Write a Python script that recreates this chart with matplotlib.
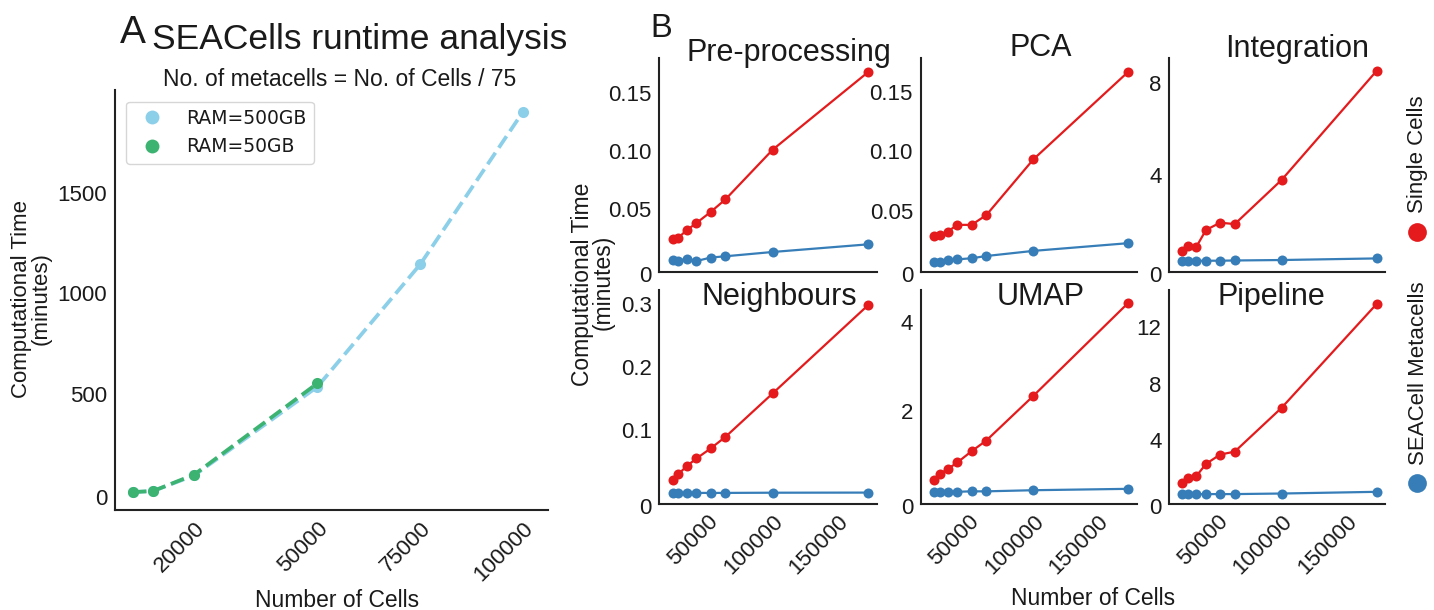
import matplotlib
matplotlib.use("Agg")
import matplotlib.pyplot as plt
from matplotlib.lines import Line2D

W, H = 1434, 610
DPI = 100
plt.rcParams['font.family'] = ['Liberation Sans', 'DejaVu Sans']
TXT = '#1a1a1a'
plt.rcParams['text.color'] = TXT

# ---------------- Panel A data ----------------
cells_a500 = [5000, 10000, 20000, 50000, 75000, 100000]
time_ram500 = [10.9, 16.4, 94, 535, 1143, 1901]
cells_a50 = [5000, 10000, 20000, 50000]
time_ram50 = [10.9, 16.4, 98, 552]
label_ram500 = 'RAM=500GB'
label_ram50 = 'RAM=50GB'
xticks_a = [20000, 50000, 75000, 100000]
yticks_a = [0, 500, 1000, 1500]

# ---------------- Panel B data ----------------
cells_b = [23000, 27500, 33800, 41400, 52300, 63700, 100000, 173500]
steps = ['Pre-processing', 'PCA', 'Integration', 'Neighbours', 'UMAP', 'Pipeline']
single_pre = [0.0244, 0.0256, 0.0319, 0.0382, 0.0477, 0.0586, 0.1014, 0.1684]
meta_pre = [0.0066, 0.0054, 0.0075, 0.0054, 0.0084, 0.0095, 0.0132, 0.0198]
single_pca = [0.0287, 0.0293, 0.0324, 0.0380, 0.0380, 0.0462, 0.0930, 0.1668]
meta_pca = [0.0068, 0.0068, 0.0082, 0.0090, 0.0099, 0.0118, 0.0161, 0.0226]
single_int = [0.70, 0.90, 0.85, 1.60, 1.92, 1.86, 3.79, 8.55]
meta_int = [0.26, 0.26, 0.26, 0.26, 0.26, 0.27, 0.29, 0.36]
single_nei = [0.0217, 0.0302, 0.0429, 0.0551, 0.0710, 0.0894, 0.1583, 0.2984]
meta_nei = [0.0005, 0.0005, 0.0005, 0.0005, 0.0005, 0.0005, 0.0008, 0.0010]
single_umap = [0.45, 0.57, 0.69, 0.84, 1.09, 1.33, 2.33, 4.42]
meta_umap = [0.18, 0.18, 0.18, 0.18, 0.19, 0.19, 0.215, 0.246]
single_pipe = [0.97, 1.33, 1.44, 2.32, 2.98, 3.19, 6.29, 13.62]
meta_pipe = [0.19, 0.19, 0.19, 0.19, 0.19, 0.19, 0.23, 0.35]
singles = [single_pre, single_pca, single_int, single_nei, single_umap, single_pipe]
metas = [meta_pre, meta_pca, meta_int, meta_nei, meta_umap, meta_pipe]
yticks_b = [[0, 0.05, 0.10, 0.15], [0, 0.05, 0.10, 0.15], [0, 4, 8],
            [0, 0.1, 0.2, 0.3], [0, 2, 4], [0, 4, 8, 12]]
ytlabels_b = [['0', '0.05', '0.10', '0.15'], ['0', '0.05', '0.10', '0.15'], ['0', '4', '8'],
              ['0', '0.1', '0.2', '0.3'], ['0', '2', '4'], ['0', '4', '8', '12']]
ylims_b = [(-0.0038, 0.1802), (-0.0014, 0.1781), (-0.22, 9.10),
           (-0.0163, 0.3222), (-0.083, 4.708), (-0.475, 14.61)]
xticks_b = [50000, 100000, 150000]
series_names = ['Single Cells', 'SEACell Metacells']

RED = '#e41a1c'
BLUE = '#377eb8'
SKY = '#8ccfe9'
GREEN = '#3cb371'
SPINE = '#222222'
TICK_FS = 16


def fx(x):
    return x / W


def fy(y):
    return 1 - y / H


def ax_rect(l, r, t, b):
    return [l / W, 1 - b / H, (r - l) / W, (b - t) / H]


def style(ax):
    for s in ['top', 'right']:
        ax.spines[s].set_visible(False)
    for s in ['left', 'bottom']:
        ax.spines[s].set_color(SPINE)
        ax.spines[s].set_linewidth(1.5)
    ax.tick_params(length=0, pad=5.4, labelsize=TICK_FS, colors=TXT)
    ax.set_facecolor('white')


def zero_label(ax, coords, dy_px):
    ax.annotate('0', xy=(0, 0), xycoords=coords, xytext=(-7.5, -dy_px),
                textcoords='offset pixels', ha='right', va='center',
                fontsize=TICK_FS, color=TXT, annotation_clip=False)


fig = plt.figure(figsize=(W / DPI, H / DPI), dpi=DPI)
fig.patch.set_facecolor('white')

# ---------------- Panel A ----------------
axA = fig.add_axes(ax_rect(114.7, 547.5, 90.3, 510.4))
style(axA)
axA.plot(cells_a500, time_ram500, ls='--', lw=2.7, color=SKY, marker='o', ms=8,
         mec='none', label=label_ram500)
axA.plot(cells_a50, time_ram50, ls='--', lw=2.7, color=GREEN, marker='o', ms=8,
         mec='none', label=label_ram50)
axA.set_xlim(650, 106000)
axA.set_ylim(-80, 2009)
axA.set_yticks(yticks_a, [''] + [str(v) for v in yticks_a[1:]])
axA.set_xticks(xticks_a, [str(v) for v in xticks_a], rotation=45, ha='right',
               rotation_mode='anchor')
zero_label(axA, axA.get_yaxis_transform(), 5.6)
handles = [Line2D([], [], ls='none', marker='o', ms=10, color=SKY, mec='none'),
           Line2D([], [], ls='none', marker='o', ms=10, color=GREEN, mec='none')]
axA.legend(handles, [label_ram500, label_ram50], loc='upper left',
           prop={'family': 'DejaVu Sans', 'size': 13.5}, edgecolor='0.8',
           borderaxespad=0.6)

fig.text(fx(120), fy(42.8), 'A', fontsize=28, va='baseline', ha='left')
fig.text(fx(151.7), fy(48.6), 'SEACells runtime analysis', fontsize=25.5,
         va='baseline', ha='left')
fig.text(fx(340), fy(85.6), 'No. of metacells = No. of Cells / 75', fontsize=16.5,
         va='baseline', ha='center')
fig.text(fx(337.5), fy(607), 'Number of Cells', fontsize=16.5, va='baseline', ha='center')
fig.text(fx(21.5), fy(298.6), 'Computational Time', fontsize=16,
         rotation=90, ha='center', va='center')
fig.text(fx(41.5), fy(298.6), '(minutes)', fontsize=16,
         rotation=90, ha='center', va='center')

# ---------------- Panel B ----------------
cols = [(659.3, 876.7), (920.5, 1136.7), (1169, 1385)]
rows = [(58.3, 271.7), (290, 503.5)]
title_pos = [(789, 60.7), (1040.5, 56.3), (1296.7, 56.7),
             (779, 305), (1040.3, 305), (1271.7, 305)]

for i, name in enumerate(steps):
    r, c = divmod(i, 3)
    ax = fig.add_axes(ax_rect(cols[c][0], cols[c][1], rows[r][0], rows[r][1]))
    style(ax)
    ax.plot(cells_b, metas[i], '-o', color=BLUE, lw=1.6, ms=7.2, mec='none')
    ax.plot(cells_b, singles[i], '-o', color=RED, lw=1.6, ms=7.2, mec='none')
    ax.set_xlim(12800, 180000)
    ax.set_ylim(*ylims_b[i])
    ax.set_yticks(yticks_b[i], [''] + ytlabels_b[i][1:])
    if r == 1:
        ax.set_xticks(xticks_b, [str(v) for v in xticks_b], rotation=45, ha='right',
                      rotation_mode='anchor')
    else:
        ax.set_xticks(xticks_b, ['', '', ''])
    zero_label(ax, 'axes fraction', 5)
    tx, ty = title_pos[i]
    fig.text(fx(tx), fy(ty), name, fontsize=22, ha='center', va='baseline')

fig.text(fx(650), fy(37.3), 'B', fontsize=23.5, va='baseline', ha='left')
fig.text(fx(583), fy(284), 'Computational Time', fontsize=16.5,
         rotation=90, ha='center', va='center')
fig.text(fx(603.5), fy(282), '(minutes)', fontsize=16.5,
         rotation=90, ha='center', va='center')
fig.text(fx(1093), fy(605), 'Number of Cells', fontsize=16.5, va='baseline', ha='center')

# right-hand legend
fig.add_artist(Line2D([fx(1416.5)], [fy(231.7)], ls='none', marker='o', ms=13.5,
                      color=RED, mec='none', transform=fig.transFigure))
fig.text(fx(1418), fy(213.3), series_names[0], rotation=90, fontsize=16,
         ha='center', va='bottom')
fig.add_artist(Line2D([fx(1416.5)], [fy(483.3)], ls='none', marker='o', ms=13.5,
                      color=BLUE, mec='none', transform=fig.transFigure))
fig.text(fx(1418), fy(465), series_names[1], rotation=90, fontsize=16,
         ha='center', va='bottom')

fig.savefig('out.png', dpi=DPI, facecolor='white')
